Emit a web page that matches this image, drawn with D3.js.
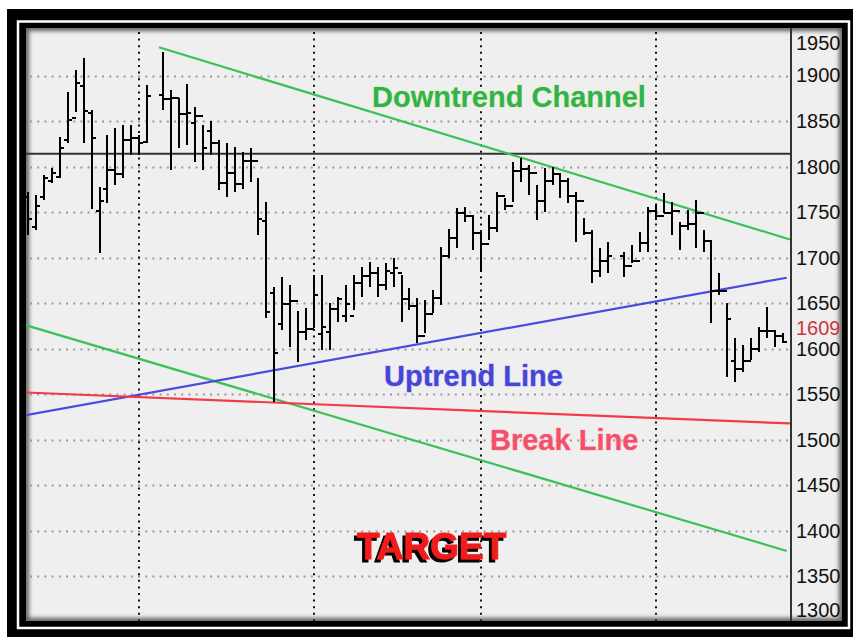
<!DOCTYPE html>
<html>
<head>
<meta charset="utf-8">
<script src="https://cdn.jsdelivr.net/npm/d3@7"></script>
<style>
body { margin: 0; background: #fff; }
svg { display: block; }
</style>
</head>
<body>
<div id="chart-area"></div>
<script>
// daily OHLC, one slot per trading day (null = no bar drawn)
const opens = [1768, 1735, 1768, 1785, 1790, 1830, 1855, 1890, 1860, 1752,
  1776, 1797, 1793, 1830, 1833, 1828, null, 1880, 1875, 1876,
  1859, 1849, 1857, 1840, 1827, 1783, 1794, 1782, 1807, 1807,
  1741, 1662, 1628, 1650, 1654, 1620, 1623, 1617, 1620, 1645,
  1637, 1637, 1673, 1681, 1684, 1671, 1684, 1684, 1656, 1648,
  1615, 1639, 1657, 1703, 1723, 1750, 1747, 1728, 1716, 1734,
  1769, 1758, 1796, 1799, 1794, 1763, 1785, 1793, 1785, 1769,
  1763, 1728, 1687, 1697, null, 1703, 1692, 1697, 1717, 1752,
  1747, 1750, 1752, 1736, 1738, 1750, 1719, 1665, 1665, 1588,
  1579, 1588, 1601, 1621, 1621, 1615]
const highs = [1772, 1769, 1791, 1798, 1833, 1882, 1906, 1919, 1862, 1778,
  1835, 1842, 1846, 1846, 1835, 1890, null, 1926, 1884, 1875,
  1891, 1866, 1846, 1850, 1829, 1826, 1822, 1816, 1820, 1788,
  1761, 1668, 1679, 1670, 1641, 1645, 1681, 1681, 1650, 1657,
  1670, 1681, 1690, 1695, 1690, 1694, 1700, 1681, 1667, 1656,
  1653, 1665, 1712, 1731, 1755, 1756, 1747, 1728, 1747, 1772,
  1766, 1805, 1810, 1802, 1780, 1799, 1800, 1793, 1787, 1772,
  1744, 1730, 1711, 1717, null, 1706, 1714, 1728, 1756, 1758,
  1771, 1761, 1739, 1752, 1763, 1730, 1719, 1683, 1650, 1612,
  1604, 1612, 1624, 1646, 1621, 1617]
const lows = [1725, 1730, 1763, 1782, 1788, 1826, 1860, 1826, 1754, 1705,
  1760, 1780, 1788, 1813, 1813, 1826, null, 1862, 1796, 1820,
  1824, 1805, 1796, 1813, 1774, 1767, 1772, 1775, 1783, 1725,
  1634, 1542, 1621, 1602, 1586, 1610, 1623, 1599, 1599, 1629,
  1629, 1643, 1657, 1668, 1657, 1665, 1668, 1629, 1643, 1606,
  1617, 1639, 1648, 1700, 1711, 1739, 1708, 1684, 1719, 1728,
  1752, 1761, 1783, 1769, 1741, 1750, 1780, 1766, 1760, 1717,
  1725, 1672, 1679, 1683, null, 1679, 1694, 1706, 1706, 1741,
  1749, 1725, 1708, 1730, 1711, 1706, 1628, 1659, 1569, 1563,
  1575, 1588, 1597, 1612, 1602, 1606]
const closes = [1744, 1758, 1789, 1794, 1822, 1852, 1893, 1862, 1833, 1763,
  1797, 1793, 1830, 1833, 1827, 1879, null, 1875, 1876, 1859,
  1860, 1857, 1822, 1827, 1783, 1794, 1782, 1807, 1807, 1744,
  1642, 1596, 1650, 1654, 1620, 1623, 1660, 1625, 1645, 1656,
  1650, 1673, 1681, 1684, 1671, 1687, 1690, 1656, 1648, 1615,
  1639, 1657, 1703, 1723, 1750, 1747, 1728, 1716, 1734, 1769,
  1758, 1796, 1799, 1794, 1763, 1785, 1793, 1785, 1769, 1763,
  1728, 1687, 1697, 1703, null, 1692, 1697, 1717, 1752, 1747,
  1750, 1752, 1736, 1738, 1750, 1719, 1665, 1665, 1634, 1579,
  1588, 1601, 1621, 1621, 1615, 1609]

// first trading day of each month (vertical dotted lines)
const monthStarts = [14, 36, 57, 79]
const priceTicks = d3.range(1300, 1951, 50)
const lastPrice = 1609
const resistance = 1814

// trend lines: [slot, price] end points
const upperChannel = [[16.6, 1931], [96, 1720]]
const lowerChannel = [[-0.2, 1626], [95.6, 1378]]
const uptrendLine = [[-0.2, 1527], [95.6, 1678]]
const breakLine = [[-0.2, 1552], [96, 1518]]

const width = 853
const height = 637
const plot = { left: 26, top: 28, right: 842, bottom: 621 }
const axisX = 791

const svg = d3.select("#chart-area").append("svg")
  .attr("width", width)
  .attr("height", height)

const defs = svg.append("defs")
defs.append("clipPath").attr("id", "clip-plot")
  .append("rect")
  .attr("x", plot.left).attr("y", plot.top)
  .attr("width", axisX - plot.left).attr("height", plot.bottom - plot.top)
defs.append("clipPath").attr("id", "clip-all")
  .append("rect")
  .attr("x", plot.left).attr("y", plot.top)
  .attr("width", plot.right - plot.left).attr("height", plot.bottom - plot.top)
defs.append("filter").attr("id", "soft")
  .append("feGaussianBlur").attr("stdDeviation", 2)

const shadow = defs.append("filter").attr("id", "shadow")
  .attr("x", "-10%").attr("y", "-20%").attr("width", "120%").attr("height", "150%")
shadow.append("feDropShadow")
  .attr("dx", -3).attr("dy", 3)
  .attr("stdDeviation", 0.3)
  .attr("flood-color", "#000")
  .attr("flood-opacity", 1)

// outer frame
svg.append("rect")
  .attr("x", 7).attr("y", 9)
  .attr("width", width - 7).attr("height", height - 9)
  .attr("fill", "#000")
svg.append("rect")
  .attr("x", 18).attr("y", 21.5)
  .attr("width", 831).attr("height", 606.5)
  .attr("fill", "none")
  .attr("stroke", "#fff")
  .attr("stroke-width", 2.5)
svg.append("rect")
  .attr("x", plot.left).attr("y", plot.top)
  .attr("width", plot.right - plot.left).attr("height", plot.bottom - plot.top)
  .attr("fill", "#efefef")

// sunken edge
svg.append("g").attr("clip-path", "url(#clip-all)")
  .append("rect")
  .attr("x", plot.left).attr("y", plot.top)
  .attr("width", plot.right - plot.left).attr("height", plot.bottom - plot.top)
  .attr("fill", "none")
  .attr("stroke", "#000")
  .attr("stroke-opacity", 0.6)
  .attr("stroke-width", 6)
  .attr("filter", "url(#soft)")

const x = d3.scaleLinear()
  .domain([0, 95])
  .range([27, 782])

const y = d3.scaleLinear()
  .domain([1300, 1950])
  .range([622, 30])

const g = svg.append("g").attr("clip-path", "url(#clip-plot)")

// grid
g.selectAll(".h-grid")
  .data(priceTicks.filter(v => v > 1300 && v < 1950))
  .join("line")
  .attr("class", "h-grid")
  .attr("x1", plot.left + 4).attr("x2", axisX)
  .attr("y1", d => Math.round(y(d)) + 0.5).attr("y2", d => Math.round(y(d)) + 0.5)
  .attr("stroke", "#9a9a9a")
  .attr("stroke-width", 2)
  .attr("stroke-dasharray", "2 5.2")

g.selectAll(".v-grid")
  .data(monthStarts)
  .join("line")
  .attr("class", "v-grid")
  .attr("x1", d => Math.round(x(d)) + 1).attr("x2", d => Math.round(x(d)) + 1)
  .attr("y1", plot.top + 4).attr("y2", plot.bottom)
  .attr("stroke", "#111")
  .attr("stroke-width", 2)
  .attr("stroke-dasharray", "2 4.6")

// horizontal black level
g.append("line")
  .attr("x1", plot.left).attr("x2", axisX)
  .attr("y1", y(resistance)).attr("y2", y(resistance))
  .attr("stroke", "#333")
  .attr("stroke-width", 2)

// trend lines
const line = d3.line()
  .x(d => x(d[0]))
  .y(d => y(d[1]))

const trends = [
  { pts: upperChannel, color: "#3cc05a" },
  { pts: lowerChannel, color: "#3cc05a" },
  { pts: uptrendLine, color: "#4a4ade" },
  { pts: breakLine, color: "#f23a48" },
]
g.selectAll(".trend")
  .data(trends)
  .join("path")
  .attr("class", "trend")
  .attr("d", d => line(d.pts))
  .attr("fill", "none")
  .attr("stroke", d => d.color)
  .attr("stroke-width", 2.2)

// OHLC bars
const bars = d3.range(highs.length)
  .map(i => ({ i, o: opens[i], h: highs[i], l: lows[i], c: closes[i] }))
  .filter(d => d.h != null)

g.selectAll(".bar")
  .data(bars)
  .join("path")
  .attr("class", "bar")
  .attr("d", d => {
    const cx = Math.round(x(d.i)) + 1
    const yo = Math.round(y(d.o)) + 1
    const yc = Math.round(y(d.c)) + 1
    return `M${cx},${Math.round(y(d.h))}V${Math.round(y(d.l))}` +
      `M${cx - 4},${yo}H${cx}M${cx},${yc}H${cx + 4}`
  })
  .attr("fill", "none")
  .attr("stroke", "#000")
  .attr("stroke-width", 2)

// price axis
svg.append("line")
  .attr("x1", axisX).attr("x2", axisX)
  .attr("y1", plot.top).attr("y2", plot.bottom)
  .attr("stroke", "#333")
  .attr("stroke-width", 2)

const yAxisCall = d3.axisRight(y)
  .tickValues(priceTicks)
  .tickSize(0)
  .tickPadding(5)
  .tickFormat(d3.format("d"))

const axisG = svg.append("g")
  .attr("transform", `translate(${axisX}, 0)`)
  .call(yAxisCall)
axisG.select(".domain").remove()
axisG.selectAll(".tick text")
  .attr("y", d => Math.min(Math.max(y(d), 43), 610) - y(d))
  .attr("font-family", "'Liberation Sans', Arial, sans-serif")
  .attr("font-size", "20px")
  .attr("fill", "#111")

svg.append("text")
  .attr("x", axisX + 5)
  .attr("y", y(lastPrice) - 13)
  .attr("dy", "0.35em")
  .attr("font-family", "'Liberation Sans', Arial, sans-serif")
  .attr("font-size", "20px")
  .attr("fill", "#c8383c")
  .text(lastPrice)

// annotations
const label = (txt, lx, ly, size, fill, halo) => svg.append("text")
  .attr("x", lx)
  .attr("y", ly)
  .attr("font-family", "'Liberation Sans', Arial, sans-serif")
  .attr("font-weight", "bold")
  .attr("font-size", size)
  .attr("fill", fill)
  .attr("stroke", halo)
  .attr("stroke-width", 1)
  .attr("paint-order", "stroke")
  .text(txt)

label("Downtrend Channel", 372, 107, "29px", "#2fb34d", "#d8e8a0")
label("Uptrend Line", 384, 386, "29px", "#4646d6", "#b8b8f0")
label("Break Line", 490, 450, "29px", "#f4506a", "#ffc0c8")

label("TARGET", 357, 559, "37px", "#f01c1c", "#f01c1c")
  .attr("filter", "url(#shadow)")
</script>
</body>
</html>
